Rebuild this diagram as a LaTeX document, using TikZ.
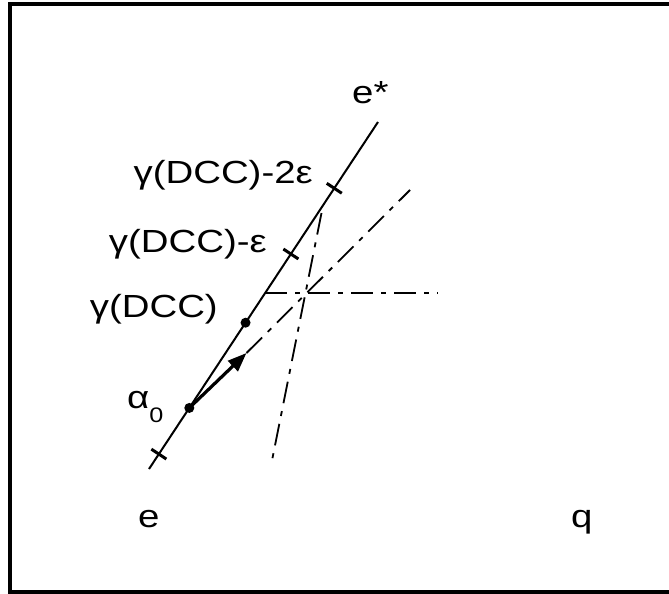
\documentclass[tikz,border=0pt]{standalone}
\usepackage{fontspec}
\setmainfont[FakeStretch=1.2]{Liberation Sans}
\usetikzlibrary{arrows.meta,calc}

\begin{document}
\begin{tikzpicture}[x=1pt, y=-1pt,
    lbl/.style={font=\fontsize{32}{38}\selectfont, inner sep=0pt},
    tickmark/.style={line width=3pt},
    dashdotline/.style={line width=1.8pt, dash pattern=on 22pt off 8pt on 5pt off 8pt},
    dotmark/.style={circle, fill, inner sep=0pt, minimum size=10pt}]
    \useasboundingbox (0,0) rectangle (669,594);

    % Frame (right side runs off the page)
    \draw[line width=4pt] (10,4) rectangle (700,592);

    % Main line from e to e*
    \coordinate (bot) at (149,469);
    \coordinate (top) at (378,122);
    \draw[line width=2pt] (bot) -- (top);

    % Tick marks
    \foreach \s/\n in {0.043/t1, 0.6196/t2, 0.809/t3} {
        \coordinate (\n) at ($(bot)!\s!(top)$);
        \draw[tickmark] ($(\n)!9pt!90:(top)$) -- ($(\n)!9pt!-90:(top)$);
    }

    % Points on the line
    \node[dotmark] (a0) at ($(bot)!0.176!(top)$) {};
    \node[dotmark] (dcc) at ($(bot)!0.4216!(top)$) {};

    % Direction arrow and its extension
    \coordinate (tip) at (246.5,353);
    \coordinate (diag) at (410,190);
    \draw[line width=3.2pt, -{Triangle[length=19pt, width=14pt]}] (a0.center) -- (tip);
    \draw[dashdotline] (tip) -- (diag);

    % Horizontal dash-dot line
    \coordinate (h0) at ($(bot)!0.508!(top)$);
    \coordinate (h1) at ($(h0)+(173,0)$);
    \draw[dashdotline] (h0) -- (h1);

    % Steep dash-dot line
    \coordinate (s0) at (321.5,213);
    \coordinate (s1) at (271.5,463);
    \draw[dashdotline] (s0) -- (s1);

    % Labels
    \node[lbl, anchor=base west] (estar) at (352,103) {e*};
    \node[lbl, anchor=base east] (l2) at (313,183) {γ(DCC)-2ε};
    \node[lbl, anchor=base east] (l1) at (267,252) {γ(DCC)-ε};
    \node[lbl, anchor=base east] (l0) at (218,317) {γ(DCC)};
    \node[lbl, anchor=base west] (alpha) at (127,408) {α\raisebox{-14pt}{\fontsize{21}{25}\selectfont 0}};
    \node[lbl, anchor=base west] (e) at (138,527) {e};
    \node[lbl, anchor=base west] (q) at (571,527) {q};
\end{tikzpicture}
\end{document}
